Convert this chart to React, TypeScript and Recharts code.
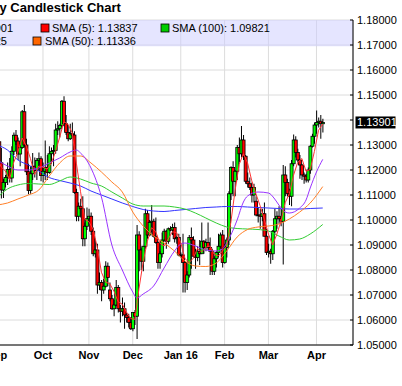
import React from "react";
import {
  ComposedChart,
  Bar,
  Line,
  XAxis,
  YAxis,
  CartesianGrid,
  ReferenceArea,
  ReferenceLine,
} from "recharts";

// x axis: one slot per weekday, starting Sep 1 2015 (extra empty slots on the right)
const FIRST_DAY = "2015-09-01";
const DAY_COUNT = 171;

const TICK_DATES = [
  "2015-09-01",
  "2015-10-01",
  "2015-11-02",
  "2015-12-01",
  "2016-01-01",
  "2016-02-01",
  "2016-03-01",
  "2016-04-01",
];
const TICK_LABELS = ["Sep", "Oct", "Nov", "Dec", "Jan 16", "Feb", "Mar", "Apr"];

const PRICE_TICKS = [
  1.05, 1.06, 1.07, 1.08, 1.09, 1.1, 1.11, 1.12, 1.13, 1.14, 1.15, 1.16, 1.17, 1.18,
];
const LAST_CLOSE = 1.13901;

// daily OHLC, Sep 1 2015 .. Apr 6 2016
const OPEN = [
  1.1213, 1.1313, 1.1229, 1.112, 1.115, 1.117, 1.1202, 1.1168, 1.1275, 1.1339, 1.1316, 1.1264, 1.129, 1.1433, 1.13, 1.1193, 1.1118, 1.1185, 1.1215, 1.1198, 1.1238, 1.1245,
  1.1178, 1.1195, 1.121, 1.119, 1.1265, 1.1275, 1.1278, 1.136, 1.1365, 1.1378, 1.1475, 1.1385, 1.135, 1.1325, 1.1345, 1.134, 1.111, 1.1015, 1.1055, 1.1045, 1.0925, 1.0975,
  1.1005, 1.1015, 1.0955, 1.0865, 1.088, 1.074, 1.075, 1.072, 1.0735, 1.0815, 1.072, 1.0685, 1.0645, 1.066, 1.073, 1.0645, 1.0635, 1.0645, 1.062, 1.061, 1.059,
  1.0565, 1.063, 1.0615, 1.094, 1.088, 1.0835, 1.0895, 1.1025, 1.094, 1.099, 1.0995, 1.0935, 1.091, 1.083, 1.0865, 1.092, 1.0955, 1.0915, 1.0965, 1.096, 1.097, 1.0925, 1.093,
  1.086, 1.086, 1.083, 1.075, 1.078, 1.093, 1.092, 1.0855, 1.085, 1.0875, 1.0865, 1.0915, 1.089, 1.091, 1.089, 1.0875, 1.0795, 1.0845, 1.087, 1.0895, 1.094,
  1.083, 1.089, 1.092, 1.1105, 1.121, 1.1155, 1.1195, 1.129, 1.1265, 1.132, 1.1255, 1.1155, 1.1145, 1.113, 1.11, 1.1075, 1.102, 1.102, 1.1015, 1.1025, 1.0935,
  1.087, 1.0875, 1.0865, 1.0955, 1.1005, 1.1015, 1.1005, 1.0995, 1.118, 1.115, 1.1105, 1.1095, 1.1225, 1.132, 1.127, 1.124, 1.122, 1.118, 1.1175, 1.116, 1.12, 1.1295, 1.1335,
  1.138, 1.139, 1.1395, 1.1385,
];
const HIGH = [
  1.1332, 1.1332, 1.1288, 1.1165, 1.118, 1.123, 1.1248, 1.1295, 1.135, 1.136, 1.133, 1.13, 1.144, 1.146, 1.1325, 1.1225, 1.1215, 1.1268, 1.125, 1.1248, 1.127, 1.1255,
  1.123, 1.1318, 1.126, 1.1295, 1.129, 1.13, 1.1385, 1.1395, 1.1385, 1.148, 1.1495, 1.142, 1.138, 1.1385, 1.139, 1.1355, 1.1125, 1.107, 1.1085, 1.1095, 1.099, 1.105,
  1.1045, 1.103, 1.097, 1.0925, 1.0905, 1.079, 1.076, 1.0765, 1.0835, 1.083, 1.075, 1.07, 1.068, 1.076, 1.074, 1.066, 1.069, 1.067, 1.063, 1.0625, 1.061,
  1.063, 1.064, 1.098, 1.0955, 1.089, 1.0895, 1.1045, 1.104, 1.1, 1.106, 1.1005, 1.101, 1.0915, 1.0875, 1.095, 1.0965, 1.096, 1.097, 1.0975, 1.0985, 1.099, 1.0935, 1.0945,
  1.087, 1.0945, 1.0835, 1.0795, 1.094, 1.097, 1.0935, 1.0885, 1.0895, 1.092, 1.099, 1.092, 1.0925, 1.099, 1.093, 1.0885, 1.0855, 1.0875, 1.0945, 1.095, 1.096,
  1.0905, 1.093, 1.1115, 1.1215, 1.1235, 1.12, 1.13, 1.133, 1.1376, 1.134, 1.126, 1.119, 1.117, 1.115, 1.1145, 1.1095, 1.105, 1.1045, 1.1045, 1.107, 1.0965,
  1.0905, 1.0885, 1.096, 1.1045, 1.1035, 1.1055, 1.1045, 1.122, 1.1215, 1.1165, 1.1125, 1.124, 1.1342, 1.1335, 1.1285, 1.126, 1.1225, 1.119, 1.1185, 1.121, 1.13, 1.1345, 1.139,
  1.1438, 1.141, 1.142, 1.1405,
];
const LOW = [
  1.1205, 1.1208, 1.1086, 1.1088, 1.113, 1.114, 1.115, 1.115, 1.126, 1.13, 1.124, 1.1215, 1.1285, 1.129, 1.118, 1.1103, 1.1105, 1.116, 1.117, 1.116, 1.1205, 1.1155,
  1.115, 1.116, 1.116, 1.1185, 1.1225, 1.1215, 1.1265, 1.134, 1.133, 1.1372, 1.1375, 1.134, 1.1315, 1.132, 1.133, 1.1105, 1.0995, 1.0995, 1.101, 1.0895, 1.0895, 1.096,
  1.0985, 1.094, 1.0855, 1.085, 1.0705, 1.072, 1.0675, 1.0705, 1.073, 1.0735, 1.0675, 1.064, 1.0615, 1.0655, 1.063, 1.059, 1.0615, 1.0565, 1.059, 1.057, 1.056,
  1.0555, 1.058, 1.0524, 1.0795, 1.08, 1.0795, 1.0885, 1.0925, 1.0935, 1.095, 1.093, 1.0905, 1.0805, 1.0805, 1.085, 1.0915, 1.0885, 1.0905, 1.0955, 1.094, 1.091, 1.0905, 1.0855,
  1.085, 1.071, 1.071, 1.072, 1.077, 1.0805, 1.085, 1.0805, 1.0835, 1.082, 1.0865, 1.0865, 1.0875, 1.088, 1.078, 1.078, 1.078, 1.081, 1.085, 1.0885, 1.081,
  1.0825, 1.085, 1.09, 1.108, 1.1095, 1.1095, 1.116, 1.123, 1.125, 1.124, 1.1145, 1.113, 1.112, 1.107, 1.107, 1.1015, 1.099, 1.0965, 1.0995, 1.0935, 1.086,
  1.085, 1.0825, 1.084, 1.0945, 1.0965, 1.0985, 1.0975, 1.0822, 1.1095, 1.1095, 1.106, 1.1055, 1.1215, 1.125, 1.123, 1.1165, 1.116, 1.1145, 1.115, 1.115, 1.1185, 1.129, 1.1305,
  1.1345, 1.137, 1.1325, 1.135,
];
const CLOSE = [
  1.1313, 1.1229, 1.112, 1.115, 1.117, 1.1202, 1.1168, 1.1275, 1.1339, 1.1316, 1.1264, 1.129, 1.1433, 1.13, 1.1193, 1.1118, 1.1185, 1.1215, 1.1198, 1.1238, 1.1245, 1.1178,
  1.1195, 1.121, 1.119, 1.1265, 1.1275, 1.1278, 1.136, 1.1365, 1.1378, 1.1475, 1.1385, 1.135, 1.1325, 1.1345, 1.134, 1.111, 1.1015, 1.1055, 1.1045, 1.0925, 1.0975, 1.1005,
  1.1015, 1.0955, 1.0865, 1.088, 1.074, 1.075, 1.072, 1.0735, 1.0815, 1.077, 1.0685, 1.0645, 1.066, 1.073, 1.0645, 1.0635, 1.0645, 1.062, 1.061, 1.059, 1.0565,
  1.063, 1.0615, 1.094, 1.088, 1.0835, 1.0895, 1.1025, 1.094, 1.099, 1.0995, 1.0935, 1.091, 1.083, 1.0865, 1.092, 1.0955, 1.0915, 1.0965, 1.096, 1.097, 1.0925, 1.093, 1.086,
  1.086, 1.083, 1.075, 1.078, 1.093, 1.092, 1.0855, 1.085, 1.0875, 1.0865, 1.0915, 1.089, 1.091, 1.089, 1.0875, 1.0795, 1.0845, 1.087, 1.0895, 1.094, 1.083,
  1.089, 1.092, 1.1105, 1.121, 1.1155, 1.1195, 1.129, 1.1265, 1.132, 1.1255, 1.1155, 1.1145, 1.113, 1.11, 1.113, 1.102, 1.102, 1.1015, 1.1025, 1.0935, 1.087,
  1.0875, 1.0865, 1.0955, 1.1005, 1.1015, 1.1005, 1.0995, 1.118, 1.115, 1.1105, 1.1095, 1.1225, 1.132, 1.127, 1.124, 1.122, 1.118, 1.1175, 1.116, 1.12, 1.1295, 1.1335, 1.138,
  1.139, 1.1395, 1.1385, 1.13901,
];

// moving averages as [day index, value]
const SMA5 = [
  [0, 1.125], [2, 1.1212], [4, 1.1196], [6, 1.1162], [8, 1.1231], [10, 1.1272], [12, 1.1328], [14, 1.1296], [16, 1.1246], [18, 1.1182],
  [20, 1.1216], [22, 1.1211], [24, 1.1204], [26, 1.1227], [28, 1.1274], [30, 1.1331], [32, 1.1393], [34, 1.1383], [36, 1.1349], [38, 1.1227],
  [40, 1.1113], [42, 1.1003], [44, 1.0993], [46, 1.0963], [48, 1.0891], [50, 1.0791], [52, 1.0752], [54, 1.0745], [56, 1.0715], [58, 1.0673],
  [60, 1.0663], [62, 1.0631], [64, 1.0606], [66, 1.0602], [68, 1.0726], [70, 1.0833], [72, 1.0915], [74, 1.0969], [76, 1.0954], [78, 1.0907],
  [80, 1.0896], [82, 1.0924], [84, 1.0953], [86, 1.095], [88, 1.0909], [90, 1.0846], [92, 1.083], [94, 1.0847], [96, 1.0886], [98, 1.0872],
  [100, 1.0891], [102, 1.0896], [104, 1.0863], [106, 1.0856], [108, 1.0876], [110, 1.0895], [112, 1.0991], [114, 1.1117], [116, 1.1223], [118, 1.1265],
  [120, 1.1228], [122, 1.1157], [124, 1.1105], [126, 1.1057], [128, 1.1003], [130, 1.0944], [132, 1.09], [134, 1.0943], [136, 1.0995], [138, 1.1069],
  [140, 1.1105], [142, 1.1179], [144, 1.123], [146, 1.1246], [148, 1.1195], [150, 1.1202], [152, 1.1274], [154, 1.1359], [156, 1.13837],
];
const SMA20 = [
  [0, 1.124], [5, 1.1216], [10, 1.12], [15, 1.12], [20, 1.1208], [25, 1.1228], [30, 1.1248], [35, 1.1272], [38, 1.128], [40, 1.1268],
  [45, 1.1208], [50, 1.1092], [55, 1.09], [60, 1.08], [65, 1.0712], [67, 1.0688], [70, 1.0704], [75, 1.0736], [80, 1.0808], [85, 1.0876],
  [88, 1.0904], [90, 1.0908], [95, 1.0896], [100, 1.088], [105, 1.0876], [108, 1.0884], [110, 1.0908], [115, 1.1], [118, 1.1072], [120, 1.1096],
  [125, 1.1112], [130, 1.1108], [133, 1.1084], [135, 1.106], [138, 1.1032], [140, 1.1028], [145, 1.1048], [148, 1.108], [150, 1.1128], [153, 1.1192],
  [156, 1.12425],
];
const SMA50 = [
  [0, 1.106], [5, 1.1068], [10, 1.1084], [15, 1.11], [20, 1.112], [25, 1.1176], [30, 1.1228], [35, 1.1256], [40, 1.1256], [45, 1.1228],
  [50, 1.1192], [55, 1.1152], [60, 1.1112], [65, 1.1032], [70, 1.0976], [75, 1.0936], [80, 1.0908], [85, 1.0876], [90, 1.0836], [95, 1.0816],
  [100, 1.0814], [105, 1.0828], [110, 1.0876], [115, 1.0932], [120, 1.0962], [125, 1.0972], [130, 1.0976], [135, 1.0984], [140, 1.1004], [145, 1.1032],
  [150, 1.1068], [156, 1.11336],
];
const SMA100 = [
  [0, 1.1088], [5, 1.1124], [10, 1.114], [15, 1.1146], [20, 1.1144], [25, 1.1142], [30, 1.1156], [35, 1.1172], [40, 1.1164], [45, 1.1148],
  [50, 1.1136], [55, 1.1112], [60, 1.1088], [65, 1.1064], [70, 1.1056], [75, 1.1056], [80, 1.1056], [85, 1.1052], [90, 1.1044], [95, 1.1028],
  [100, 1.1008], [105, 1.0988], [110, 1.0972], [115, 1.0966], [120, 1.0964], [125, 1.0962], [130, 1.0956], [135, 1.0936], [140, 1.092], [145, 1.0924],
  [150, 1.0944], [156, 1.09821],
];
const SMA200 = [
  [0, 1.13], [5, 1.128], [10, 1.124], [15, 1.122], [20, 1.1196], [25, 1.117], [30, 1.1158], [35, 1.1148], [40, 1.1136], [45, 1.1116],
  [50, 1.11], [55, 1.1084], [60, 1.1068], [65, 1.1054], [70, 1.1042], [75, 1.1036], [80, 1.1034], [85, 1.1038], [90, 1.1042], [95, 1.1046],
  [100, 1.105], [105, 1.1052], [110, 1.1054], [115, 1.1054], [120, 1.1052], [125, 1.105], [130, 1.1048], [135, 1.1046], [140, 1.1044], [145, 1.1044],
  [150, 1.1046], [156, 1.1048],
];

function tradingDays(start: string, count: number): string[] {
  const out: string[] = [];
  const t = new Date(start + "T00:00:00Z");
  while (out.length < count) {
    const wd = t.getUTCDay();
    if (wd !== 0 && wd !== 6) out.push(t.toISOString().slice(0, 10));
    t.setUTCDate(t.getUTCDate() + 1);
  }
  return out;
}

const pick = (pairs: number[][], k: number) => {
  const hit = pairs.find((p) => p[0] === k);
  return hit ? hit[1] : null;
};

const data = tradingDays(FIRST_DAY, DAY_COUNT).map((d, k) => {
  const has = k < CLOSE.length;
  return {
    d,
    range: has ? [LOW[k], HIGH[k]] : null,
    open: has ? OPEN[k] : null,
    high: has ? HIGH[k] : null,
    low: has ? LOW[k] : null,
    close: has ? CLOSE[k] : null,
    sma5: pick(SMA5, k),
    sma20: pick(SMA20, k),
    sma50: pick(SMA50, k),
    sma100: pick(SMA100, k),
    sma200: pick(SMA200, k),
  };
});

const Candle = (props: any) => {
  const { x, y, width, height, payload } = props;
  if (!payload || payload.open == null) return null;
  const top = Math.min(y, y + height);
  const h = Math.abs(height);
  const cx = x + width / 2;
  const span = payload.high - payload.low;
  const py = (p: number) => top + (span ? ((payload.high - p) / span) * h : 0);
  const up = payload.close >= payload.open;
  const bTop = py(Math.max(payload.open, payload.close));
  const bBot = py(Math.min(payload.open, payload.close));
  return (
    <g>
      <line x1={cx} x2={cx} y1={top} y2={top + h} stroke="#000" strokeWidth={1} />
      <rect
        x={cx - 1.5}
        y={bTop}
        width={3}
        height={Math.max(bBot - bTop, 0.8)}
        fill={up ? "#00ff00" : "#ff0000"}
        stroke="#000"
        strokeWidth={0.8}
      />
    </g>
  );
};

const PriceTick = (props: any) => {
  const { x, y, payload } = props;
  const v = payload.value as number;
  return (
    <g>
      <line x1={x - 7} x2={x - 4} y1={y} y2={y} stroke="#000" />
      {Math.abs(v - 1.14) > 1e-6 && (
        <text x={x} y={y} dy={4} fontSize={11} fill="#000">
          {v.toFixed(5)}
        </text>
      )}
    </g>
  );
};

const LastLabel = (props: any) => {
  const { x, y, width } = props.viewBox;
  const left = x + width + 2.5;
  return (
    <g>
      <rect x={left} y={y - 6} width={40} height={12} fill="#000" />
      <text x={left + 1.5} y={y + 4} fontSize={11} fill="#fff">
        {LAST_CLOSE.toFixed(5)}
      </text>
    </g>
  );
};

export default function App() {
  return (
    <div
      style={{
        position: "absolute",
        left: 0,
        top: 0,
        width: 402,
        height: 386,
        overflow: "hidden",
        background: "#fff",
        fontFamily: "'Liberation Sans', Arial, sans-serif",
      }}
    >
      <div style={{ position: "absolute", left: -20, top: 0 }}>
        <ComposedChart
          width={422}
          height={386}
          data={data}
          margin={{ top: 20, right: 0, bottom: 0, left: 16 }}
        >
          <CartesianGrid stroke="#dcdcdc" />
          <ReferenceArea y1={1.1695} y2={1.18} fill="#ccccff" fillOpacity={0.5} stroke="none" />
          <XAxis
            dataKey="d"
            type="category"
            ticks={TICK_DATES}
            interval={0}
            tickFormatter={(v: string) => TICK_LABELS[TICK_DATES.indexOf(v)]}
            tickLine={false}
            tickSize={0}
            tickMargin={6}
            height={41}
            axisLine={{ stroke: "#000" }}
            tick={{ fontSize: 11, fontWeight: "bold", fill: "#000" }}
          />
          <YAxis
            orientation="right"
            width={49}
            domain={[1.05, 1.18]}
            allowDataOverflow
            ticks={PRICE_TICKS}
            interval={0}
            tickLine={false}
            tickSize={0}
            tickMargin={4}
            axisLine={{ stroke: "#000" }}
            tick={<PriceTick />}
          />
          <Bar dataKey="range" shape={(p: any) => <Candle {...p} />} isAnimationActive={false} />
          <Line dataKey="sma200" stroke="#3333ff" strokeWidth={1} dot={false} type="monotone" connectNulls isAnimationActive={false} />
          <Line dataKey="sma100" stroke="#33cc33" strokeWidth={1} dot={false} type="monotone" connectNulls isAnimationActive={false} />
          <Line dataKey="sma50" stroke="#ff7f27" strokeWidth={1} dot={false} type="monotone" connectNulls isAnimationActive={false} />
          <Line dataKey="sma20" stroke="#9933ff" strokeWidth={1} dot={false} type="monotone" connectNulls isAnimationActive={false} />
          <Line dataKey="sma5" stroke="#ff3333" strokeWidth={1} dot={false} type="linear" connectNulls isAnimationActive={false} />
          <ReferenceLine y={LAST_CLOSE} stroke="none" label={(p: any) => <LastLabel {...p} />} />
        </ComposedChart>
      </div>
      <svg
        width={402}
        height={386}
        style={{ position: "absolute", left: 0, top: 0, pointerEvents: "none" }}
      >
        <text x={-0.5} y={12} fontSize={13} fontWeight="bold" fill="#000">
          y Candlestick Chart
        </text>
        <g fontSize={11} fill="#000">
          <text x={13} y={31.5} textAnchor="end">901</text>
          <rect x={41} y={24} width={8} height={8} fill="#ff0000" stroke="#000" strokeWidth={0.8} />
          <text x={52} y={31.5}>SMA (5): 1.13837</text>
          <rect x={161} y={24} width={8} height={8} fill="#00cc00" stroke="#000" strokeWidth={0.8} />
          <text x={172} y={31.5}>SMA (100): 1.09821</text>
          <text x={7} y={44.5} textAnchor="end">25</text>
          <rect x={33} y={37} width={8} height={8} fill="#ff6600" stroke="#000" strokeWidth={0.8} />
          <text x={45} y={44.5}>SMA (50): 1.11336</text>
        </g>
      </svg>
    </div>
  );
}
